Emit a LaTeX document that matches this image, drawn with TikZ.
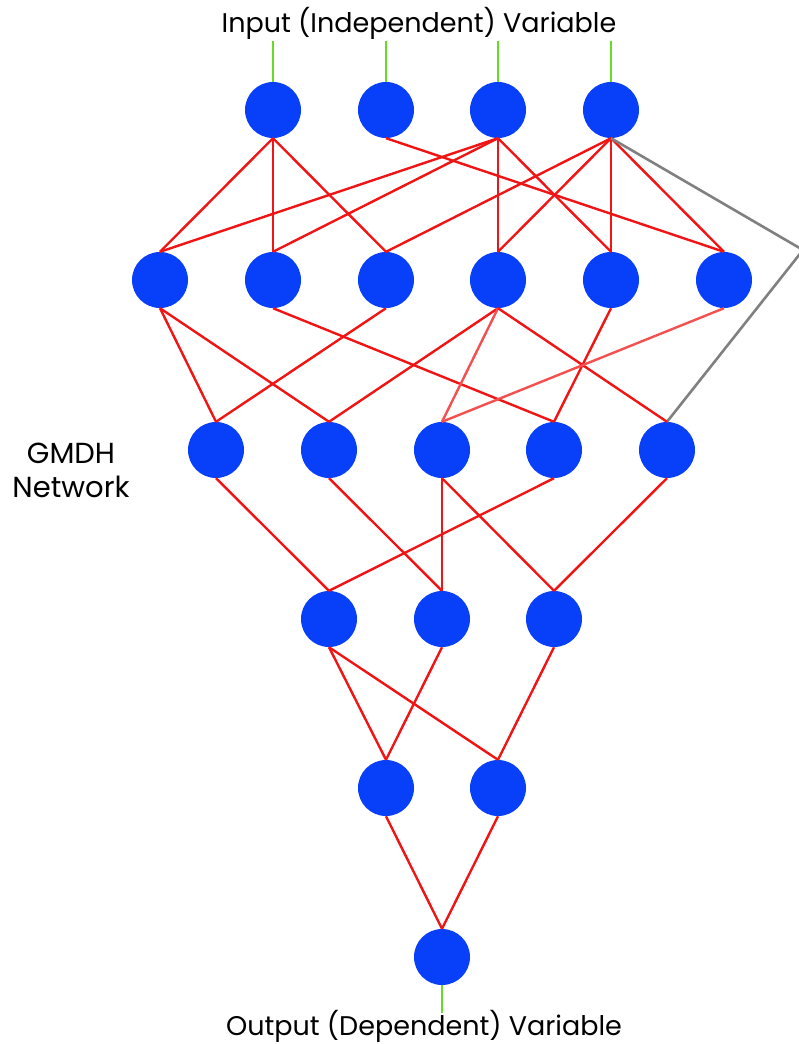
\documentclass[tikz,border=0pt]{standalone}
\usepackage{fontspec}
\setmainfont{Poppins}
\definecolor{nodeblue}{RGB}{8,64,250}
\definecolor{linkred}{RGB}{240,20,20}
\definecolor{lightred}{RGB}{244,80,80}
\definecolor{inputgreen}{RGB}{100,220,40}
\definecolor{skipgray}{RGB}{128,128,128}
\begin{document}
\begin{tikzpicture}[x=1pt,y=-1pt,
  neuron/.style={circle,fill=nodeblue,minimum size=56pt,inner sep=0pt},
  link/.style={draw=linkred,line width=2.4pt},
  lightlink/.style={draw=lightred,line width=2.4pt},
  ioline/.style={draw=inputgreen,line width=2.4pt},
  skip/.style={draw=skipgray,line width=2.6pt,line join=round},
  caption/.style={font=\fontsize{27}{30}\selectfont,inner sep=0pt}]
\useasboundingbox (0,0) rectangle (798,1044);
% layer 1
\node[neuron] (a1) at (273,110) {};
\node[neuron] (a2) at (386,110) {};
\node[neuron] (a3) at (498,110) {};
\node[neuron] (a4) at (611,110) {};
% layer 2
\node[neuron] (b1) at (160,280) {};
\node[neuron] (b2) at (273,280) {};
\node[neuron] (b3) at (386,280) {};
\node[neuron] (b4) at (498,280) {};
\node[neuron] (b5) at (611,280) {};
\node[neuron] (b6) at (724,280) {};
% layer 3
\node[neuron] (c1) at (216,450) {};
\node[neuron] (c2) at (329,450) {};
\node[neuron] (c3) at (442,450) {};
\node[neuron] (c4) at (554,450) {};
\node[neuron] (c5) at (667,450) {};
% layer 4
\node[neuron] (d1) at (329,619) {};
\node[neuron] (d2) at (442,619) {};
\node[neuron] (d3) at (554,619) {};
% layer 5
\node[neuron] (e1) at (386,788) {};
\node[neuron] (e2) at (498,788) {};
% output
\node[neuron] (f) at (442,957) {};
% texts
\node[caption] (intext) at (419,23) {Input (Independent) Variable};
\node[caption] (outtext) at (424,1026) {Output (Dependent) Variable};
\node[caption,align=center,font=\fontsize{29}{34}\selectfont] (gmdh) at (71,470) {GMDH\\Network};
% input / output stubs
\coordinate (i1) at (273,41);
\coordinate (i2) at (386,41);
\coordinate (i3) at (498,41);
\coordinate (i4) at (611,41);
\coordinate (o1) at (442,1013);
\draw[ioline] (i1) -- (a1.north);
\draw[ioline] (i2) -- (a2.north);
\draw[ioline] (i3) -- (a3.north);
\draw[ioline] (i4) -- (a4.north);
\draw[ioline] (f.south) -- (o1);
% layer 1 -> 2
\draw[link] (a1.south) -- (b1.north);
\draw[link] (a1.south) -- (b2.north);
\draw[link] (a1.south) -- (b3.north);
\draw[link] (a2.south) -- (b6.north);
\draw[link] (a3.south) -- (b1.north);
\draw[link] (a3.south) -- (b2.north);
\draw[link] (a3.south) -- (b4.north);
\draw[link] (a3.south) -- (b5.north);
\draw[link] (a4.south) -- (b3.north);
\draw[link] (a4.south) -- (b4.north);
\draw[link] (a4.south) -- (b5.north);
\draw[link] (a4.south) -- (b6.north);
% skip connection
\coordinate (bend) at (803,250);
\draw[skip] (a4.south) -- (bend) -- (c5.north);
% layer 2 -> 3
\draw[link] (b1.south) -- (c1.north);
\draw[link] (b1.south) -- (c2.north);
\draw[link] (b2.south) -- (c4.north);
\draw[link] (b3.south) -- (c1.north);
\draw[link] (b4.south) -- (c2.north);
\draw[lightlink] (b4.south) -- (c3.north);
\draw[link] (b4.south) -- (c5.north);
\draw[link] (b5.south) -- (c4.north);
\draw[lightlink] (b6.south) -- (c3.north);
% layer 3 -> 4
\draw[link] (c1.south) -- (d1.north);
\draw[link] (c2.south) -- (d2.north);
\draw[link] (c3.south) -- (d2.north);
\draw[link] (c3.south) -- (d3.north);
\draw[link] (c4.south) -- (d1.north);
\draw[link] (c5.south) -- (d3.north);
% layer 4 -> 5
\draw[link] (d1.south) -- (e1.north);
\draw[link] (d1.south) -- (e2.north);
\draw[link] (d2.south) -- (e1.north);
\draw[link] (d3.south) -- (e2.north);
% layer 5 -> output
\draw[link] (e1.south) -- (f.north);
\draw[link] (e2.south) -- (f.north);
\end{tikzpicture}
\end{document}
